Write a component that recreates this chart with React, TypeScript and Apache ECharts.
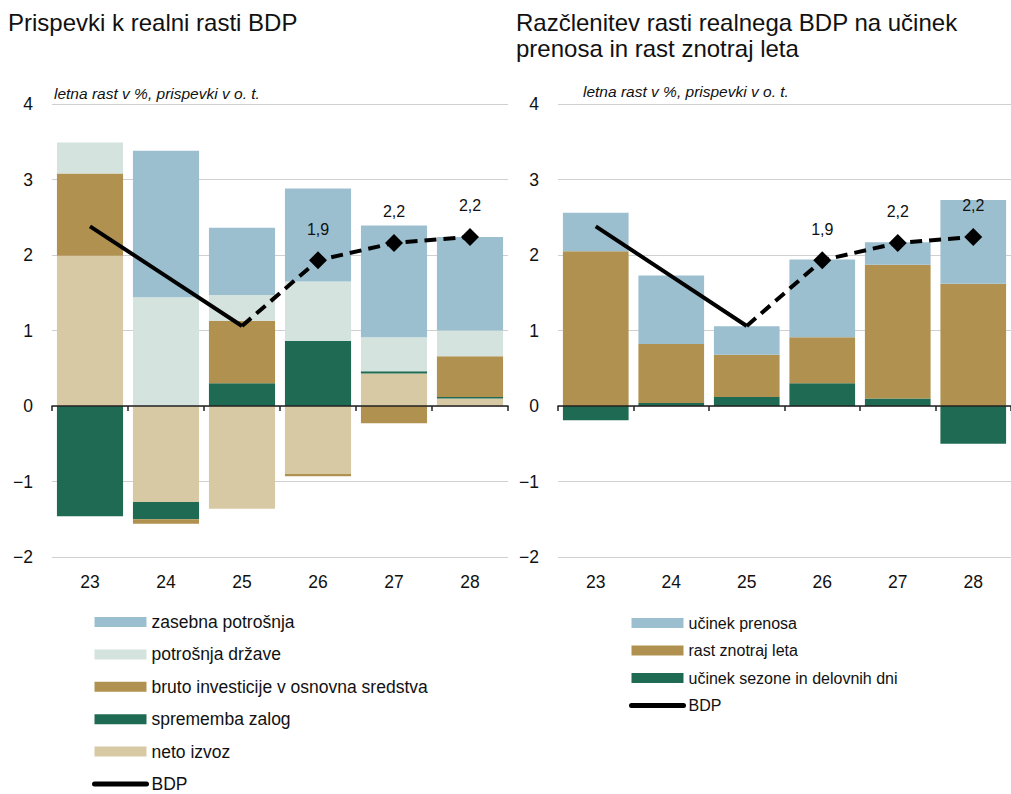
import React, { useEffect, useRef } from "react";
import * as echarts from "echarts";

const categories = ["23", "24", "25", "26", "27", "28"];

// Left chart: contributions to real GDP growth
const zasebna = [0, 1.94, 0.89, 1.23, 1.48, 1.24];
const drzava = [0.41, 1.44, 0.34, 0.79, 0.45, 0.34];
const investicije = [1.09, -0.06, 0.83, -0.03, -0.23, 0.54];
const zalog = [-1.46, -0.23, 0.3, 0.86, 0.03, 0.02];
const izvoz = [1.99, -1.27, -1.36, -0.9, 0.43, 0.1];

// Right chart: carry-over vs within-year growth
const prenos = [0.51, 0.91, 0.375, 1.03, 0.3, 1.11];
const znotraj = [2.05, 0.78, 0.56, 0.61, 1.77, 1.62];
const sezona = [-0.19, 0.04, 0.12, 0.3, 0.1, -0.5];

// GDP growth (actual up to 25, projections after)
const bdp = [2.38, 1.72, 1.06, 1.93, 2.16, 2.24];
const lastActual = 2;

const yTicks = { min: -2, max: 4, interval: 1 };

const FONT = "'Liberation Sans', Arial, sans-serif";
const TXT = "#111";

const C_ZAS = "#9bbfcf";
const C_DRZ = "#d4e3dd";
const C_INV = "#b0914f";
const C_ZAL = "#1f6a52";
const C_IZV = "#d8c9a5";

function fmtY(v: number) {
  return v < 0 ? "\u2212" + Math.abs(v) : String(v);
}

function bdpSeries(xi: number, yi: number) {
  const solid = bdp.map((v, i) => (i <= lastActual ? v : null));
  const dashed = bdp.map((v, i) => {
    if (i < lastActual) return null;
    if (i === lastActual) return { value: v, symbol: "none", label: { show: false } };
    return v;
  });
  return [
    {
      name: "BDP",
      type: "line",
      xAxisIndex: xi,
      yAxisIndex: yi,
      data: solid,
      symbol: "none",
      z: 5,
      lineStyle: { color: "#000", width: 4 },
      itemStyle: { color: "#000" },
    },
    {
      name: "BDP",
      type: "line",
      xAxisIndex: xi,
      yAxisIndex: yi,
      data: dashed,
      symbol: "diamond",
      symbolSize: 18,
      showSymbol: true,
      z: 5,
      lineStyle: { color: "#000", width: 4, type: [12, 7] },
      itemStyle: { color: "#000" },
      label: {
        show: true,
        position: "top",
        distance: 14,
        color: TXT,
        fontSize: 16,
        fontFamily: FONT,
        formatter: (p: any) => (Math.round(p.value * 10) / 10).toFixed(1).replace(".", ","),
      },
    },
  ];
}

function barSeries(name: string, data: number[], color: string, stack: string, xi: number, yi: number) {
  return {
    name,
    type: "bar",
    stack,
    xAxisIndex: xi,
    yAxisIndex: yi,
    data,
    barCategoryGap: "13%",
    itemStyle: { color },
  };
}

function labelAxis(gi: number) {
  return {
    type: "category",
    gridIndex: gi,
    data: categories,
    position: "bottom",
    axisLine: { show: false, onZero: false },
    axisTick: { show: false },
    axisLabel: { fontSize: 17.5, color: TXT, margin: 16, fontFamily: FONT },
  };
}

function zeroAxis(gi: number) {
  return {
    type: "category",
    gridIndex: gi,
    data: categories,
    position: "bottom",
    z: 10,
    axisLine: { show: true, onZero: true, lineStyle: { color: "#222", width: 1.5 } },
    axisTick: { show: true, interval: 0, length: 5, lineStyle: { color: "#222", width: 1.5 } },
    axisLabel: { show: false },
  };
}

function valueAxis(gi: number) {
  return {
    type: "value",
    gridIndex: gi,
    min: yTicks.min,
    max: yTicks.max,
    interval: yTicks.interval,
    axisLine: { show: false },
    axisTick: { show: false },
    splitLine: { lineStyle: { color: "#d0d0d0", width: 1 } },
    axisLabel: { fontSize: 17.5, color: TXT, margin: 19, fontFamily: FONT, formatter: fmtY },
  };
}

const bdpLegendItem = {
  name: "BDP",
  itemStyle: { opacity: 0 },
  lineStyle: { width: 5, cap: "round", color: "#000" },
};

export default function App() {
  const ref = useRef<HTMLDivElement>(null);
  useEffect(() => {
    if (!ref.current) return;
    const chart = echarts.init(ref.current, null, { renderer: "svg" });
    chart.setOption({
      animation: false,
      backgroundColor: "#fff",
      title: [
        {
          text: "Prispevki k realni rasti BDP",
          left: 8,
          top: 9,
          padding: 0,
          textStyle: { fontSize: 24, fontWeight: "normal", color: TXT, fontFamily: FONT, lineHeight: 26 },
        },
        {
          text: "Razčlenitev rasti realnega BDP na učinek\nprenosa in rast znotraj leta",
          left: 516,
          top: 9,
          padding: 0,
          textStyle: { fontSize: 24, fontWeight: "normal", color: TXT, fontFamily: FONT, lineHeight: 26 },
        },
      ],
      graphic: [
        {
          type: "text",
          left: 54,
          top: 85,
          style: { text: "letna rast v %, prispevki v o. t.", fontSize: 15.5, fontStyle: "italic", fontFamily: FONT, fill: TXT },
        },
        {
          type: "text",
          left: 583,
          top: 83,
          style: { text: "letna rast v %, prispevki v o. t.", fontSize: 15.5, fontStyle: "italic", fontFamily: FONT, fill: TXT },
        },
      ],
      grid: [
        { left: 52, top: 104, width: 456, height: 453 },
        { left: 558, top: 104, right: -7, height: 453 },
      ],
      xAxis: [labelAxis(0), zeroAxis(0), labelAxis(1), zeroAxis(1)],
      yAxis: [valueAxis(0), valueAxis(1)],
      legend: [
        {
          orient: "vertical",
          left: 92,
          top: 613,
          height: 200,
          padding: 0,
          itemWidth: 52,
          itemHeight: 10,
          itemGap: 14.4,
          selectedMode: false,
          textStyle: { fontSize: 17.5, color: TXT, fontFamily: FONT },
          data: [
            { name: "zasebna potrošnja", icon: "rect" },
            { name: "potrošnja države", icon: "rect" },
            { name: "bruto investicije v osnovna sredstva", icon: "rect" },
            { name: "sprememba zalog", icon: "rect" },
            { name: "neto izvoz", icon: "rect" },
            bdpLegendItem,
          ],
        },
        {
          orient: "vertical",
          left: 629,
          top: 615,
          height: 200,
          padding: 0,
          itemWidth: 52,
          itemHeight: 10,
          itemGap: 11.5,
          selectedMode: false,
          textStyle: { fontSize: 16, color: TXT, fontFamily: FONT },
          data: [
            { name: "učinek prenosa", icon: "rect" },
            { name: "rast znotraj leta", icon: "rect" },
            { name: "učinek sezone in delovnih dni", icon: "rect" },
            bdpLegendItem,
          ],
        },
      ],
      series: [
        barSeries("neto izvoz", izvoz, C_IZV, "L", 0, 0),
        barSeries("sprememba zalog", zalog, C_ZAL, "L", 0, 0),
        barSeries("bruto investicije v osnovna sredstva", investicije, C_INV, "L", 0, 0),
        barSeries("potrošnja države", drzava, C_DRZ, "L", 0, 0),
        barSeries("zasebna potrošnja", zasebna, C_ZAS, "L", 0, 0),
        ...bdpSeries(0, 0),
        barSeries("učinek sezone in delovnih dni", sezona, C_ZAL, "R", 2, 1),
        barSeries("rast znotraj leta", znotraj, C_INV, "R", 2, 1),
        barSeries("učinek prenosa", prenos, C_ZAS, "R", 2, 1),
        ...bdpSeries(2, 1),
      ],
    });
    return () => chart.dispose();
  }, []);
  return (
    <div
      ref={ref}
      style={{ position: "fixed", left: 0, top: 0, width: 1011, height: 794, background: "#fff" }}
    />
  );
}
